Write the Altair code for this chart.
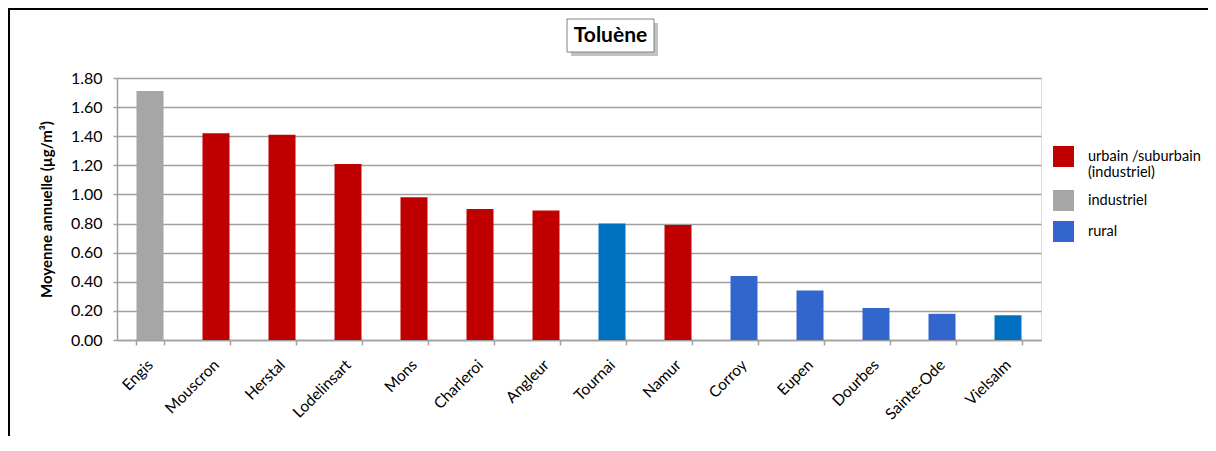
import altair as alt
import pandas as pd

sites = ["Engis", "Mouscron", "Herstal", "Lodelinsart", "Mons", "Charleroi", "Angleur",
         "Tournai", "Namur", "Corroy", "Eupen", "Dourbes", "Sainte-Ode", "Vielsalm"]
values = [1.71, 1.42, 1.41, 1.21, 0.98, 0.90, 0.89, 0.80, 0.79, 0.44, 0.34, 0.22, 0.18, 0.17]
cats = ["industriel", "urbain /suburbain (industriel)", "urbain /suburbain (industriel)",
        "urbain /suburbain (industriel)", "urbain /suburbain (industriel)",
        "urbain /suburbain (industriel)", "urbain /suburbain (industriel)",
        "rural ", "urbain /suburbain (industriel)", "rural", "rural", "rural", "rural", "rural "]
legend_items = ["urbain /suburbain (industriel)", "industriel", "rural"]
cat_domain = ["urbain /suburbain (industriel)", "industriel", "rural", "rural "]
cat_colors = ["#C00000", "#A6A6A6", "#3366CC", "#0070C0"]
y_ticks = [0.0, 0.2, 0.4, 0.6, 0.8, 1.0, 1.2, 1.4, 1.6, 1.8]
title_text = "Toluène"
y_title = "Moyenne annuelle (µg/m³)"

df = pd.DataFrame({"site": sites, "value": values, "cat": cats})
FONT = "Lato"

bars = alt.Chart(df).mark_bar(size=27).encode(
    x=alt.X("site:N", sort=sites, title=None,
            scale=alt.Scale(paddingInner=0.59, paddingOuter=0.295),
            axis=alt.Axis(labelAngle=-45, labelAlign="right", labelBaseline="middle",
                          labelFontSize=15.5, labelFont=FONT, labelColor="#000000",
                          labelPadding=17, tickBand="extent", tickSize=5,
                          domainColor="#A0A0A0", tickColor="#A0A0A0", domainWidth=1.5,
                          tickWidth=1.5, grid=False)),
    y=alt.Y("value:Q", title=y_title,
            scale=alt.Scale(domain=[0, 1.8], nice=False),
            axis=alt.Axis(values=y_ticks, format=".2f", labelFontSize=16, labelFont=FONT,
                          labelColor="#000000", titleFont=FONT, titleFontSize=15,
                          titleFontWeight="bold", titleColor="#000000", titlePadding=16,
                          gridColor="#A0A0A0", gridWidth=1.5, domainColor="#A0A0A0",
                          domainWidth=1.5, tickColor="#A0A0A0", tickSize=4, tickWidth=1.5,
                          labelPadding=11)),
    color=alt.Color("cat:N", scale=alt.Scale(domain=cat_domain, range=cat_colors),
                    legend=alt.Legend(values=legend_items, title=None, orient="none",
                                      legendX=936, legendY=68, symbolType="square",
                                      symbolSize=441, symbolStrokeWidth=0,
                                      labelFont=FONT, labelFontSize=14.5,
                                      labelColor="#000000", labelOffset=14,
                                      rowPadding=10, labelLimit=200,
                                      labelExpr="datum.label == 'urbain /suburbain (industriel)' ? ['urbain /suburbain', '(industriel)'] : datum.label == 'industriel' ? ' industriel' : datum.label")),
)

one = pd.DataFrame({"t": [title_text]})
shadow = alt.Chart(one).mark_rect(color="#999999", opacity=0.6).encode(
    x=alt.value(454), x2=alt.value(541), y=alt.value(-55), y2=alt.value(-22))
box = alt.Chart(one).mark_rect(fill="white", stroke="#808080", strokeWidth=1).encode(
    x=alt.value(450), x2=alt.value(537), y=alt.value(-59), y2=alt.value(-26))
ttext = alt.Chart(one).mark_text(font=FONT, fontSize=21, fontWeight="bold",
                                 color="#000000", align="center", baseline="middle").encode(
    text="t:N", x=alt.value(493.5), y=alt.value(-42))
top_line = alt.Chart(one).mark_rule(color="#000000", strokeWidth=2).encode(
    x=alt.value(-109), x2=alt.value(1091), y=alt.value(-69), y2=alt.value(-69))
left_line = alt.Chart(one).mark_rule(color="#000000", strokeWidth=2).encode(
    x=alt.value(-108), x2=alt.value(-108), y=alt.value(-70), y2=alt.value(380))

chart = alt.layer(top_line, left_line, bars, shadow, box, ttext).properties(
    width=924, height=262, padding={"left": 109, "top": 70, "right": 167, "bottom": 96},
    autosize=alt.AutoSizeParams(type="none"),
).configure_view(stroke=None).configure(background="white")

chart.save("out.html", embed_options={"renderer": "svg", "actions": False})
